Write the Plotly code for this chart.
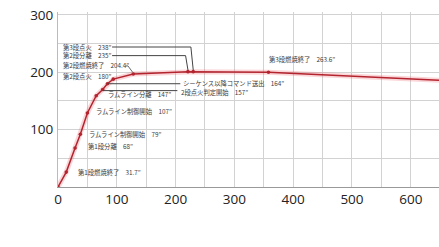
import plotly.graph_objects as go

# ---- data ----
event_names = ["発射", "第1段燃焼終了", "第1段分離", "ラムライン制御開始", "ラムライン制御開始",
               "ラムライン分離", "2段点火判定開始", "シーケンス以降コマンド送出", "第2段点火",
               "第2段燃焼終了", "第2段分離", "第3段点火", "第3段燃焼終了"]
event_times = ["0", "31.7", "68", "79", "107", "147", "157", "164", "180", "204.4", "235", "238", "263.6"]
downrange_km = [0, 14, 29, 38, 50, 65, 76, 84, 94, 128, 221, 230, 358]
altitude_km = [0, 26, 68, 92, 129, 159, 170, 180, 188, 197, 201, 201, 200]
# trajectory continues after the last event (no marker)
tail_x = [648]
tail_y = [186]

x_ticks = [0, 100, 200, 300, 400, 500, 600]
y_ticks = [100, 200, 300]

# ---- label layout (positions in data units) ----
label_pos = {
    1: (31, 26), 2: (48, 70), 3: (49, 92), 4: (61, 131), 5: (82, 161),
    6: (205, 165), 7: (210, 181), 8: (5, 192), 9: (5, 211), 10: (5, 229),
    11: (5, 244), 12: (355, 222),
}
TXT = "#3a3a3a"
RED = "#b3242f"

line_x = downrange_km + tail_x
line_y = altitude_km + tail_y

fig = go.Figure()
fig.add_trace(go.Scatter(x=line_x, y=line_y, mode="lines",
                         line=dict(color="rgba(235,90,100,0.25)", width=5),
                         hoverinfo="skip", showlegend=False))
fig.add_trace(go.Scatter(x=line_x, y=line_y, mode="lines",
                         line=dict(color=RED, width=1.5),
                         hoverinfo="skip", showlegend=False))
fig.add_trace(go.Scatter(x=downrange_km, y=altitude_km, mode="markers",
                         marker=dict(color=RED, size=3.6),
                         showlegend=False))

annotations = []
for i, (lx, ly) in label_pos.items():
    annotations.append(dict(
        x=lx, y=ly, xref="x", yref="y", xanchor="left", yanchor="middle",
        text=f"{event_names[i]}　{event_times[i]}″", showarrow=False,
        font=dict(family="Noto Sans CJK JP", size=6.3, color=TXT)))

shapes = []
# horizontal leaders from markers (157, 164) to their labels
for i in (6, 7):
    shapes.append(dict(type="line", xref="x", yref="y",
                       x0=downrange_km[i], y0=altitude_km[i] + (0 if i == 7 else -2),
                       x1=label_pos[i][0] - 2, y1=altitude_km[i] + (0 if i == 7 else -2),
                       line=dict(color="#444", width=1)))
# elbow leaders from 235 / 238 labels down to markers
for i, start in ((10, 92), (11, 92)):
    mx, my = downrange_km[i], altitude_km[i]
    ly = label_pos[i][1]
    shapes.append(dict(type="path", xref="x", yref="y",
                       path=f"M {start},{ly} L {mx-4},{ly} L {mx},{my+3}",
                       line=dict(color="#444", width=1)))
# small hook arrow from 204.4 label to its marker
i = 9
mx, my = downrange_km[i], altitude_km[i]
shapes.append(dict(type="path", xref="x", yref="y",
                   path=f"M {mx-13},{label_pos[i][1]} L {mx-9},{label_pos[i][1]} L {mx-1},{my+3}",
                   line=dict(color="#444", width=0.8)))

fig.update_layout(
    width=439, height=247,
    margin=dict(l=58, r=0, t=12, b=60),
    paper_bgcolor="white", plot_bgcolor="white",
    annotations=annotations, shapes=shapes,
    font=dict(family="Open Sans", color="#222"),
    xaxis=dict(range=[0, 648], tickvals=x_ticks, ticktext=[str(v) for v in x_ticks],
               showgrid=True, gridcolor="#d2d2d2", gridwidth=1,
               minor=dict(dtick=50, showgrid=True, gridcolor="#d2d2d2"),
               zeroline=False, showline=True, linecolor="#999", linewidth=1,
               ticks="", tickfont=dict(size=13.5, color="#222"), fixedrange=True),
    yaxis=dict(range=[0, 305], tickvals=y_ticks, ticktext=[str(v) for v in y_ticks],
               showgrid=True, gridcolor="#d2d2d2", gridwidth=1,
               minor=dict(dtick=50, showgrid=True, gridcolor="#d2d2d2"),
               zeroline=False, showline=True, linecolor="#bbb", linewidth=1,
               ticks="", ticklabelstandoff=1, tickfont=dict(size=13.5, color="#222"),
               fixedrange=True),
)

fig.write_html("out.html")
